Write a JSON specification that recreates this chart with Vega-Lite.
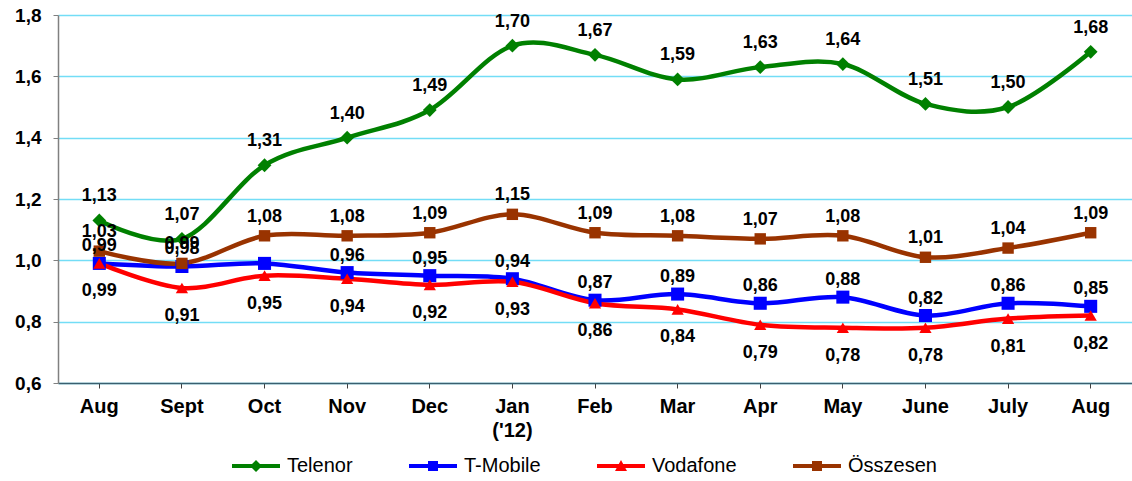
{
  "$schema": "https://vega.github.io/schema/vega-lite/v6.json",
  "width": 1074,
  "height": 368,
  "autosize": {"type": "none"},
  "padding": {"left": 58, "top": 15, "right": 0, "bottom": 98},
  "background": "white",
  "config": {
    "view": {"stroke": null},
    "font": "Liberation Sans"
  },
  "data": {
    "values": [
      {"month": "Aug 2011", "series": "Telenor", "value": 1.13},
      {"month": "Sept", "series": "Telenor", "value": 1.07},
      {"month": "Oct", "series": "Telenor", "value": 1.31},
      {"month": "Nov", "series": "Telenor", "value": 1.40},
      {"month": "Dec", "series": "Telenor", "value": 1.49},
      {"month": "Jan ('12)", "series": "Telenor", "value": 1.70},
      {"month": "Feb", "series": "Telenor", "value": 1.67},
      {"month": "Mar", "series": "Telenor", "value": 1.59},
      {"month": "Apr", "series": "Telenor", "value": 1.63},
      {"month": "May", "series": "Telenor", "value": 1.64},
      {"month": "June", "series": "Telenor", "value": 1.51},
      {"month": "July", "series": "Telenor", "value": 1.50},
      {"month": "Aug 2012", "series": "Telenor", "value": 1.68},
      {"month": "Aug 2011", "series": "T-Mobile", "value": 0.99},
      {"month": "Sept", "series": "T-Mobile", "value": 0.98},
      {"month": "Oct", "series": "T-Mobile", "value": 0.99},
      {"month": "Nov", "series": "T-Mobile", "value": 0.96},
      {"month": "Dec", "series": "T-Mobile", "value": 0.95},
      {"month": "Jan ('12)", "series": "T-Mobile", "value": 0.94},
      {"month": "Feb", "series": "T-Mobile", "value": 0.87},
      {"month": "Mar", "series": "T-Mobile", "value": 0.89},
      {"month": "Apr", "series": "T-Mobile", "value": 0.86},
      {"month": "May", "series": "T-Mobile", "value": 0.88},
      {"month": "June", "series": "T-Mobile", "value": 0.82},
      {"month": "July", "series": "T-Mobile", "value": 0.86},
      {"month": "Aug 2012", "series": "T-Mobile", "value": 0.85},
      {"month": "Aug 2011", "series": "Vodafone", "value": 0.99},
      {"month": "Sept", "series": "Vodafone", "value": 0.91},
      {"month": "Oct", "series": "Vodafone", "value": 0.95},
      {"month": "Nov", "series": "Vodafone", "value": 0.94},
      {"month": "Dec", "series": "Vodafone", "value": 0.92},
      {"month": "Jan ('12)", "series": "Vodafone", "value": 0.93},
      {"month": "Feb", "series": "Vodafone", "value": 0.86},
      {"month": "Mar", "series": "Vodafone", "value": 0.84},
      {"month": "Apr", "series": "Vodafone", "value": 0.79},
      {"month": "May", "series": "Vodafone", "value": 0.78},
      {"month": "June", "series": "Vodafone", "value": 0.78},
      {"month": "July", "series": "Vodafone", "value": 0.81},
      {"month": "Aug 2012", "series": "Vodafone", "value": 0.82},
      {"month": "Aug 2011", "series": "Összesen", "value": 1.03},
      {"month": "Sept", "series": "Összesen", "value": 0.99},
      {"month": "Oct", "series": "Összesen", "value": 1.08},
      {"month": "Nov", "series": "Összesen", "value": 1.08},
      {"month": "Dec", "series": "Összesen", "value": 1.09},
      {"month": "Jan ('12)", "series": "Összesen", "value": 1.15},
      {"month": "Feb", "series": "Összesen", "value": 1.09},
      {"month": "Mar", "series": "Összesen", "value": 1.08},
      {"month": "Apr", "series": "Összesen", "value": 1.07},
      {"month": "May", "series": "Összesen", "value": 1.08},
      {"month": "June", "series": "Összesen", "value": 1.01},
      {"month": "July", "series": "Összesen", "value": 1.04},
      {"month": "Aug 2012", "series": "Összesen", "value": 1.09}
    ]
  },
  "encoding": {
    "x": {
      "field": "month",
      "type": "nominal",
      "sort": ["Aug 2011", "Sept", "Oct", "Nov", "Dec", "Jan ('12)", "Feb", "Mar", "Apr", "May", "June", "July", "Aug 2012"],
      "scale": {"type": "band", "paddingInner": 0, "paddingOuter": 0},
      "axis": {
        "title": null,
        "labelAngle": 0,
        "labelFont": "Liberation Sans",
        "labelFontSize": 20,
        "labelFontWeight": "bold",
        "labelColor": "black",
        "labelPadding": 8,
        "labelLineHeight": 24,
        "labelExpr": "indexof(datum.value, 'Aug') == 0 ? 'Aug' : (datum.value == \"Jan ('12)\" ? ['Jan', \"('12)\"] : datum.value)",
        "tickSize": 5,
        "tickColor": "#404040",
        "domainColor": "#3A5F6F",
        "domainWidth": 1.5,
        "grid": false
      }
    },
    "y": {
      "field": "value",
      "type": "quantitative",
      "scale": {"domain": [0.6, 1.8], "nice": false, "zero": false},
      "axis": {
        "title": null,
        "values": [0.6, 0.8, 1.0, 1.2, 1.4, 1.6, 1.8],
        "labelExpr": "replace(format(datum.value, '.1f'), '.', ',')",
        "labelFont": "Liberation Sans",
        "labelFontSize": 19,
        "labelFontWeight": "bold",
        "labelColor": "black",
        "labelPadding": 12,
        "tickSize": 5,
        "tickColor": "#808080",
        "domainColor": "#808080",
        "domainWidth": 1.5,
        "grid": true,
        "gridColor": "#73DDF6",
        "gridWidth": 1.5
      }
    }
  },
  "layer": [
    {
      "mark": {"type": "line", "interpolate": "cardinal", "strokeWidth": 4.5},
      "encoding": {
        "color": {
          "field": "series", "type": "nominal",
          "scale": {"domain": ["Telenor", "T-Mobile", "Vodafone", "Összesen"], "range": ["#008000", "#0000FF", "#FF0000", "#993300"]},
          "legend": null
        }
      }
    },
    {
      "mark": {"type": "point", "filled": true, "opacity": 1},
      "encoding": {
        "color": {
          "field": "series", "type": "nominal",
          "scale": {"domain": ["Telenor", "T-Mobile", "Vodafone", "Összesen"], "range": ["#008000", "#0000FF", "#FF0000", "#993300"]},
          "legend": null
        },
        "shape": {
          "field": "series", "type": "nominal",
          "scale": {"domain": ["Telenor", "T-Mobile", "Vodafone", "Összesen"], "range": ["diamond", "square", "triangle-up", "square"]},
          "legend": null
        },
        "size": {
          "field": "series", "type": "ordinal",
          "scale": {"domain": ["Telenor", "T-Mobile", "Vodafone", "Összesen"], "range": [190, 130, 220, 150]},
          "legend": null
        }
      }
    },
    {
      "transform": [{"filter": "datum.series == 'Telenor'"}],
      "mark": {"type": "text", "font": "Liberation Sans", "fontSize": 18, "fontWeight": "bold", "color": "black", "baseline": "alphabetic", "dy": -19, "text": {"expr": "replace(format(datum.value, '.2f'), '.', ',')"}},
      "encoding": {}
    },
    {
      "transform": [{"filter": "datum.series == 'T-Mobile' && datum.month != 'Oct'"}],
      "mark": {"type": "text", "font": "Liberation Sans", "fontSize": 18, "fontWeight": "bold", "color": "black", "baseline": "alphabetic", "dy": -12, "text": {"expr": "replace(format(datum.value, '.2f'), '.', ',')"}},
      "encoding": {}
    },
    {
      "transform": [{"filter": "datum.series == 'Vodafone'"}],
      "mark": {"type": "text", "font": "Liberation Sans", "fontSize": 18, "fontWeight": "bold", "color": "black", "baseline": "top", "dy": 19, "text": {"expr": "replace(format(datum.value, '.2f'), '.', ',')"}},
      "encoding": {}
    },
    {
      "transform": [{"filter": "datum.series == 'Összesen'"}],
      "mark": {"type": "text", "font": "Liberation Sans", "fontSize": 18, "fontWeight": "bold", "color": "black", "baseline": "alphabetic", "dy": -14, "text": {"expr": "replace(format(datum.value, '.2f'), '.', ',')"}},
      "encoding": {}
    },
    {
      "transform": [{"filter": "datum.value < 0"}],
      "mark": {"type": "point", "filled": true, "opacity": 1, "size": 100},
      "encoding": {
        "color": {
          "field": "series", "type": "nominal",
          "scale": {"domain": ["Telenor", "T-Mobile", "Vodafone", "Összesen"], "range": ["#008000", "#0000FF", "#FF0000", "#993300"]},
          "legend": {"orient": "none", "legendX": 164, "legendY": 441, "direction": "horizontal", "title": null, "labelFont": "Liberation Sans", "labelFontSize": 20, "labelColor": "black", "symbolOffset": 24, "labelOffset": 21, "columnPadding": 46}
        },
        "shape": {
          "field": "series", "type": "nominal",
          "scale": {"domain": ["Telenor", "T-Mobile", "Vodafone", "Összesen"], "range": [
            "M-4.8,-0.4H4.8V0.4H-4.8Z M0,-1.2L1.2,0L0,1.2L-1.2,0Z",
            "M-4.8,-0.4H4.8V0.4H-4.8Z M-1,-1H1V1H-1Z",
            "M-4.8,-0.4H4.8V0.4H-4.8Z M0,-1.2L1.2,1L-1.2,1Z",
            "M-4.8,-0.4H4.8V0.4H-4.8Z M-1,-1H1V1H-1Z"
          ]},
          "legend": {"orient": "none", "legendX": 164, "legendY": 441, "direction": "horizontal", "title": null, "labelFont": "Liberation Sans", "labelFontSize": 20, "labelColor": "black", "symbolOffset": 24, "labelOffset": 21, "columnPadding": 46}
        }
      }
    }
  ],
  "resolve": {"scale": {"color": "independent", "shape": "independent"}}
}
